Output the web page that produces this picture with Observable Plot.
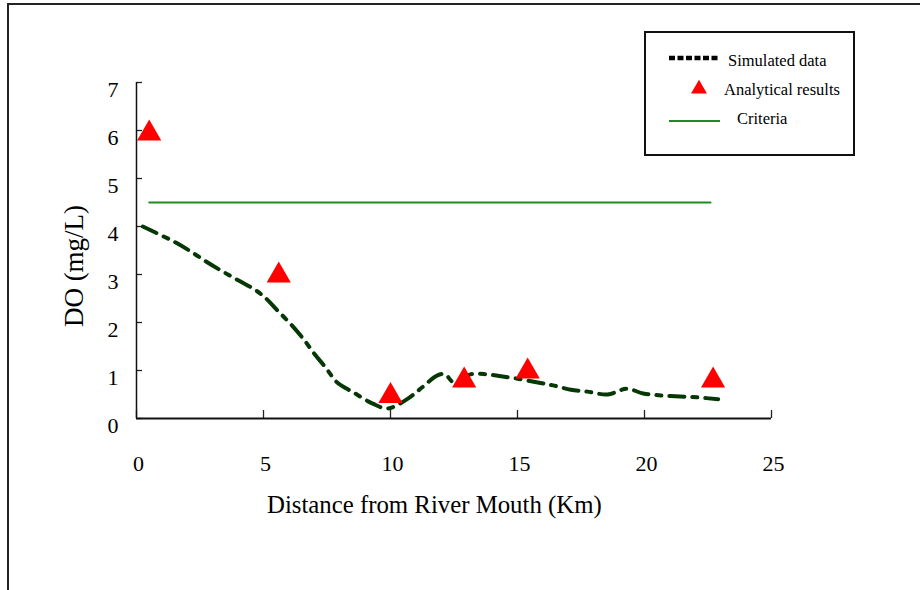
<!DOCTYPE html>
<html>
<head>
<meta charset="utf-8">
<script src="https://cdn.jsdelivr.net/npm/d3@7"></script>
<script src="https://cdn.jsdelivr.net/npm/@observablehq/plot@0.6"></script>
<style>
  html, body { margin: 0; padding: 0; background: #fff; }
  #wrap { position: relative; width: 920px; height: 590px; overflow: hidden; font-family: "Liberation Serif", "Times New Roman", serif; }
  #frame { position: absolute; left: 7px; top: 3px; width: 1000px; height: 1000px; border-left: 2px solid #222; border-top: 2px solid #222; }
  #chart { position: absolute; left: 0; top: 0; }
  .title { position: absolute; color: #000; white-space: nowrap; }
  #legend { position: absolute; left: 644px; top: 31px; width: 207px; height: 121px; border: 2px solid #111; background: #fff; }
  #legend svg { position: absolute; left: 0; top: 0; }
</style>
</head>
<body>
<div id="wrap">
  <div id="frame"></div>
  <div id="chart"></div>
  <div class="title" id="xtitle" style="left:267px; top:491px; font-size:24.8px;">Distance from River Mouth (Km)</div>
  <div class="title" id="ytitle" style="left:74px; top:266px; font-size:27px; transform: translate(-50%,-50%) rotate(-90deg);">DO (mg/L)</div>
  <div id="legend"></div>
</div>
<script>
// ---- data ----
const simDistance = [0.25, 1.0, 1.6, 2.25, 2.8, 3.4, 4.0, 4.7, 5.1, 5.55, 6.05, 6.55, 7.0, 7.45, 7.9, 8.55, 9.3, 9.9, 10.7, 11.25, 11.85, 12.15, 12.5, 13.15, 13.8, 14.35, 15.0, 15.8, 16.4, 17.1, 17.75, 18.55, 19.3, 19.95, 20.65, 21.4, 22.1, 22.9];
const simDO       = [4.0, 3.81, 3.65, 3.44, 3.25, 3.06, 2.88, 2.67, 2.5, 2.25, 1.98, 1.67, 1.35, 1.06, 0.75, 0.54, 0.31, 0.21, 0.42, 0.65, 0.9, 0.92, 0.75, 0.92, 0.92, 0.88, 0.83, 0.75, 0.69, 0.6, 0.56, 0.5, 0.62, 0.52, 0.48, 0.46, 0.44, 0.4];
const obsDistance = [0.5, 5.6, 10.0, 12.9, 15.4, 22.7];
const obsDO       = [5.94, 2.98, 0.47, 0.79, 0.98, 0.79];
const criteriaDistance = [0.5, 22.6];
const criteriaDO = 4.5;
const xTicks = [0, 5, 10, 15, 20, 25];
const yTicks = [0, 1, 2, 3, 4, 5, 6, 7];
const legendLabels = ["Simulated data", "Analytical results", "Criteria"];

const sim = simDistance.map((d, i) => ({x: d, y: simDO[i]}));
const obs = obsDistance.map((d, i) => ({x: d, y: obsDO[i]}));
const crit = criteriaDistance.map(d => ({x: d, y: criteriaDO}));

const font = "Liberation Serif";
const chart = Plot.plot({
  width: 920,
  height: 590,
  marginLeft: 136,
  marginRight: 149,
  marginTop: 82,
  marginBottom: 172,
  style: {fontFamily: font, background: "transparent", overflow: "visible"},
  x: {domain: [0, 25]},
  y: {domain: [0, 7]},
  marks: [
    Plot.axisX({ticks: xTicks, tickSize: -8, tickFormat: () => "", label: null, stroke: "#222", strokeWidth: 1.3}),
    Plot.axisY({ticks: yTicks, tickSize: -6, tickFormat: () => "", label: null, stroke: "#222", strokeWidth: 1.3}),
    Plot.axisX({ticks: xTicks, tickSize: 0, tickPadding: 37, fontSize: 22, fill: "#000", label: null, dx: 2, tickFormat: d3.format("d")}),
    Plot.axisY({ticks: yTicks, tickSize: 0, tickPadding: 18, fontSize: 22, fill: "#000", label: null, dy: 7, tickFormat: d3.format("d")}),
    Plot.line(crit, {x: "x", y: "y", stroke: "#1e8c1e", strokeWidth: 2}),
    Plot.line(sim, {x: "x", y: "y", stroke: "#053805", strokeWidth: 4, curve: "catmull-rom", strokeDasharray: "15,8,5,8"}),
    Plot.dot(obs, {x: "x", y: "y", symbol: "triangle", r: 9, fill: "#ff0000", stroke: "none"}),
    Plot.ruleY([0], {stroke: "#111", strokeWidth: 2}),
    Plot.ruleX([0], {stroke: "#111", strokeWidth: 1.5})
  ]
});
document.getElementById("chart").appendChild(chart);

// ---- legend ----
const lg = d3.select("#legend").append("svg").attr("width", 207).attr("height", 121);
lg.append("line").attr("x1", 23).attr("x2", 74).attr("y1", 25).attr("y2", 25)
  .attr("stroke", "#000").attr("stroke-width", 4.5).attr("stroke-dasharray", "6,2.5");
lg.append("path").attr("d", d3.symbol(d3.symbolTriangle, 110)()).attr("transform", "translate(53,56)").attr("fill", "#ff0000");
lg.append("line").attr("x1", 23).attr("x2", 74).attr("y1", 88).attr("y2", 88)
  .attr("stroke", "#1e8c1e").attr("stroke-width", 2);
const lx = [82, 78, 91], ly = [27, 56, 85];
legendLabels.forEach((t, i) => {
  lg.append("text").attr("x", lx[i]).attr("y", ly[i]).attr("dy", "0.35em")
    .attr("font-family", font).attr("font-size", 16.5).attr("fill", "#000").text(t);
});
</script>
</body>
</html>
